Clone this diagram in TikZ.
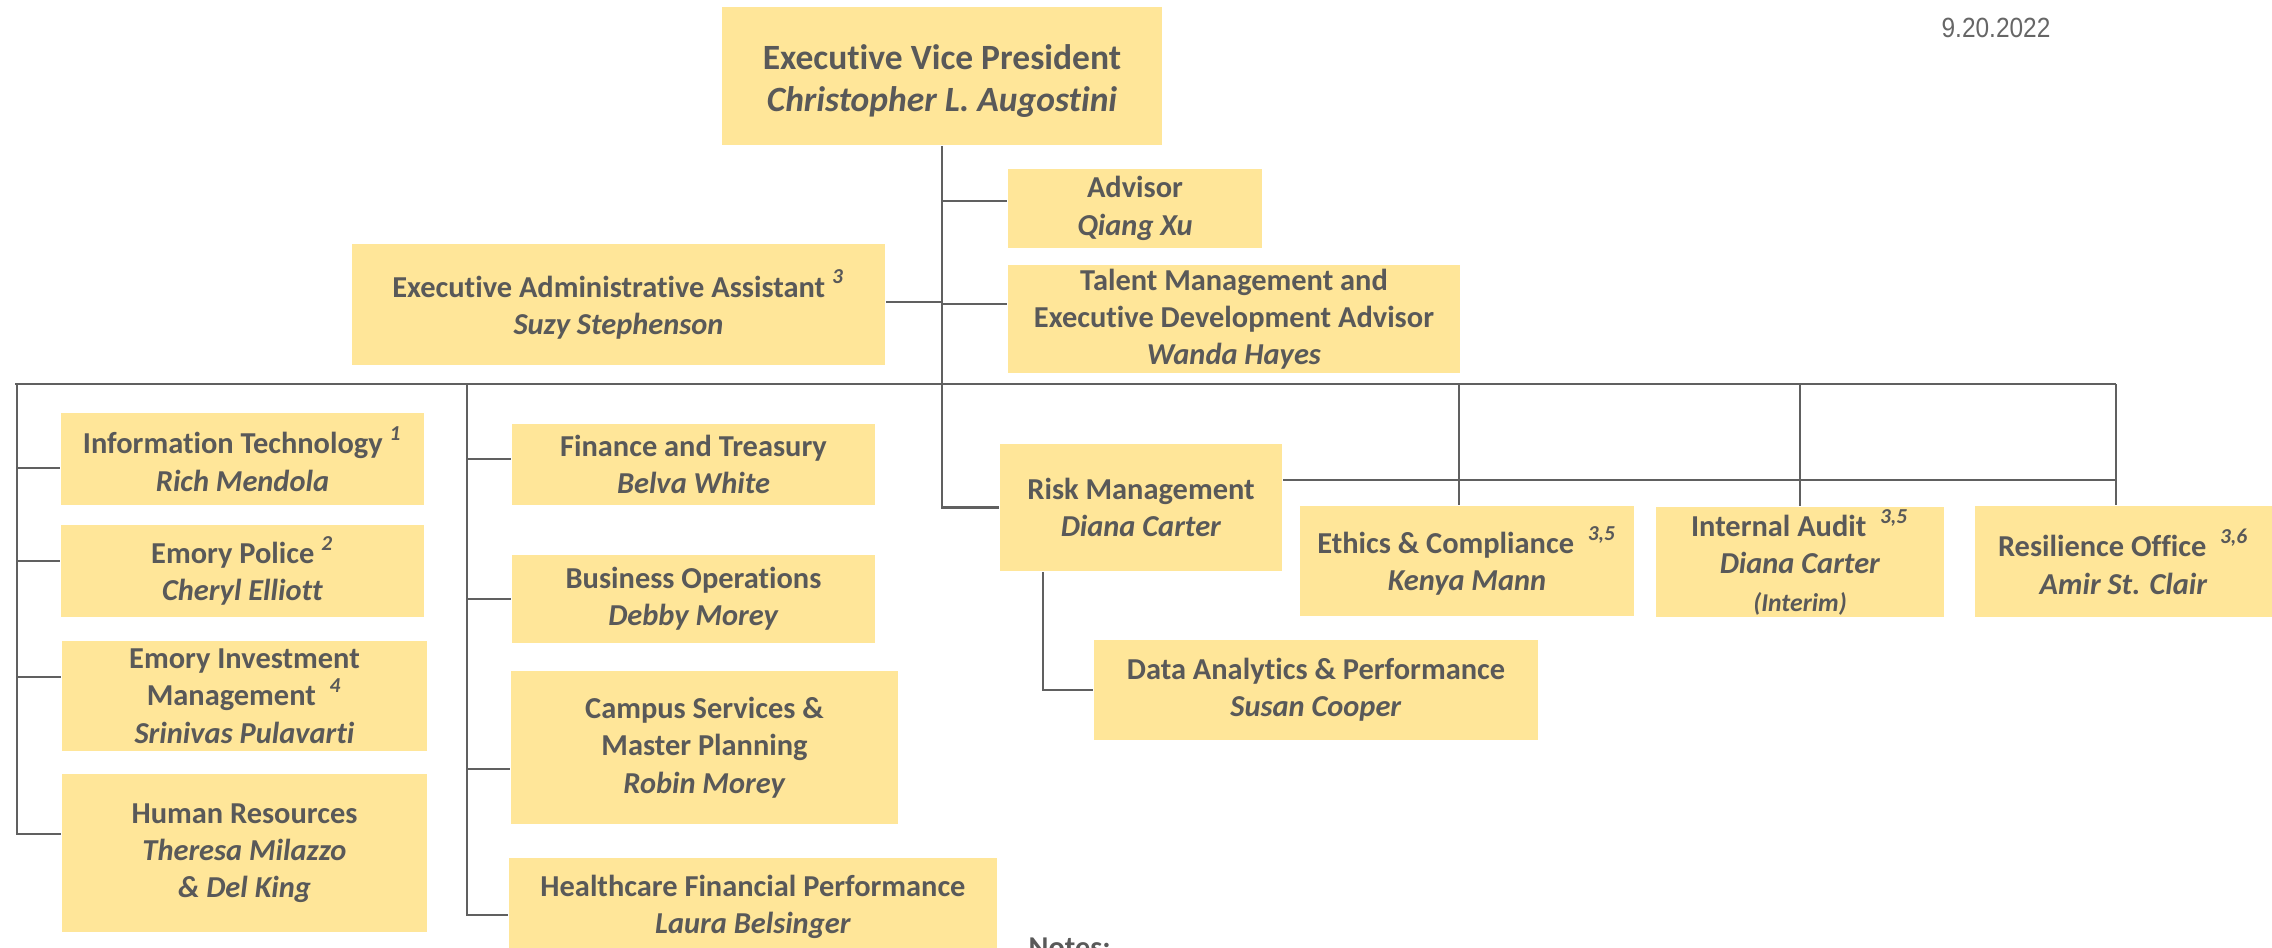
\documentclass[tikz,border=0pt]{standalone}
\usepackage{fontspec}
\setmainfont{Carlito}[Ligatures=NoCommon]
\newfontfamily\datefont{Liberation Sans}
\definecolor{boxfill}{HTML}{FFE699}
\definecolor{txt}{HTML}{595959}
\definecolor{ln}{HTML}{606060}
\definecolor{datecol}{HTML}{666666}
\newcommand\sups[1]{\textsuperscript{\textit{#1}}}
\tikzset{
  box/.style={fill=boxfill, draw=none, inner sep=0pt, align=center, text=txt,
    font=\fontsize{8.65}{10.6}\selectfont\bfseries},
  conn/.style={draw=ln, line width=0.8pt}
}
\begin{document}
\begin{tikzpicture}[x=0.01cm, y=-0.01cm]
\useasboundingbox (0,0) rectangle (2272,947);
\clip (0,0) rectangle (2272,947);
% boxes
\node[box, minimum width=4.40cm, minimum height=1.38cm, text height=22pt, font=\fontsize{10.1}{12}\selectfont\bfseries] (evp) at (942,76) {Executive Vice President\\\textit{Christopher L. Augostini}};
\node[box, minimum width=2.54cm, minimum height=0.79cm] (adv) at (1135,208.5) {Advisor\\\textit{Qiang Xu}};
\node[box, minimum width=5.33cm, minimum height=1.21cm] (ea) at (618.5,304.5) {Executive Administrative Assistant~\sups{3}\\\textit{Suzy Stephenson}};
\node[box, minimum width=4.52cm, minimum height=1.08cm] (tal) at (1234,319) {Talent Management and\\Executive Development Advisor\\\textit{Wanda Hayes}};
\node[box, minimum width=3.63cm, minimum height=0.92cm] (it) at (242.5,459) {Information Technology~\sups{1}\\\textit{Rich Mendola}};
\node[box, minimum width=3.63cm, minimum height=0.92cm] (pol) at (242.5,571) {Emory Police~\sups{2}\\\textit{Cheryl Elliott}};
\node[box, minimum width=3.65cm, minimum height=1.10cm] (eim) at (244.5,696) {Emory Investment\\Management~~\sups{4}\\\textit{Srinivas Pulavarti}};
\node[box, minimum width=3.65cm, minimum height=1.58cm] (hr) at (244.5,853) {Human Resources\\\textit{Theresa Milazzo}\\\textit{\& Del King}};
\node[box, minimum width=3.63cm, minimum height=0.81cm] (fin) at (693.5,464.5) {Finance and Treasury\\\textit{Belva White}};
\node[box, minimum width=3.63cm, minimum height=0.88cm] (bus) at (693.5,599) {Business Operations\\\textit{Debby Morey}};
\node[box, minimum width=3.87cm, minimum height=1.53cm] (cam) at (704.5,747.5) {Campus Services \&\\Master Planning\\\textit{Robin Morey}};
\node[box, minimum width=4.88cm, minimum height=0.97cm] (hc) at (753,906.5) {Healthcare Financial Performance\\\textit{Laura Belsinger}};
\node[box, minimum width=2.82cm, minimum height=1.27cm] (risk) at (1141,507.5) {Risk Management\\\textit{Diana Carter}};
\node[box, minimum width=3.34cm, minimum height=1.10cm] (eth) at (1467,561) {Ethics \& Compliance~~\sups{3,5}\\\textit{Kenya Mann}};
\node[box, minimum width=2.88cm, minimum height=1.10cm] (ia) at (1800,562) {Internal Audit~~\sups{3,5}\\\textit{Diana Carter}\\{\fontsize{7.3}{10.6}\selectfont\textit{(Interim)}}};
\node[box, minimum width=2.97cm, minimum height=1.11cm] (res) at (2123.5,561.5) {Resilience Office~~\sups{3,6}\\\textit{Amir St. Clair}};
\node[box, minimum width=4.44cm, minimum height=1.00cm] (dat) at (1316,690) {Data Analytics \& Performance\\\textit{Susan Cooper}};
% date and notes
\node[anchor=base west, inner sep=0pt, text=datecol, font=\datefont\fontsize{7.9}{9}\selectfont, xscale=0.88] (date) at (1941,37) {9.20.2022};
\node[anchor=north west, inner sep=0pt, text=txt, font=\fontsize{8.6}{10}\selectfont\bfseries] (notes) at (1028,937) {Notes:};
% coordinates of buses
\coordinate (busL) at (15,384);
\coordinate (busR) at (2116,384);
\coordinate (colA) at (17,384);
\coordinate (colB) at (467,384);
% connectors
\draw[conn] (evp.south) |- (risk.west);
\draw[conn] (evp.south |- 0,201) -- (adv.west |- 0,201);
\draw[conn] (evp.south |- 0,304) -- (tal.west |- 0,304);
\draw[conn] (ea.east |- 0,302) -- (evp.south |- 0,302);
\draw[conn] (busL) -- (busR);
\draw[conn] (colA) |- (hr.west |- 0,834);
\draw[conn] (colA |- 0,468) -- (it.west |- 0,468);
\draw[conn] (colA |- 0,561) -- (pol.west |- 0,561);
\draw[conn] (colA |- 0,677) -- (eim.west |- 0,677);
\draw[conn] (colB) |- (hc.west |- 0,915);
\draw[conn] (colB |- 0,459) -- (fin.west |- 0,459);
\draw[conn] (colB |- 0,599) -- (bus.west |- 0,599);
\draw[conn] (colB |- 0,769) -- (cam.west |- 0,769);
\draw[conn] (1459,384) -- (eth.north -| 1459,0);
\draw[conn] (ia.north |- busR) -- (ia.north);
\draw[conn] (busR) -- (res.north -| busR);
\draw[conn] (risk.east |- 0,480) -- (busR |- 0,480);
\draw[conn] (risk.south -| 1043,0) |- (dat.west);
\end{tikzpicture}
\end{document}
